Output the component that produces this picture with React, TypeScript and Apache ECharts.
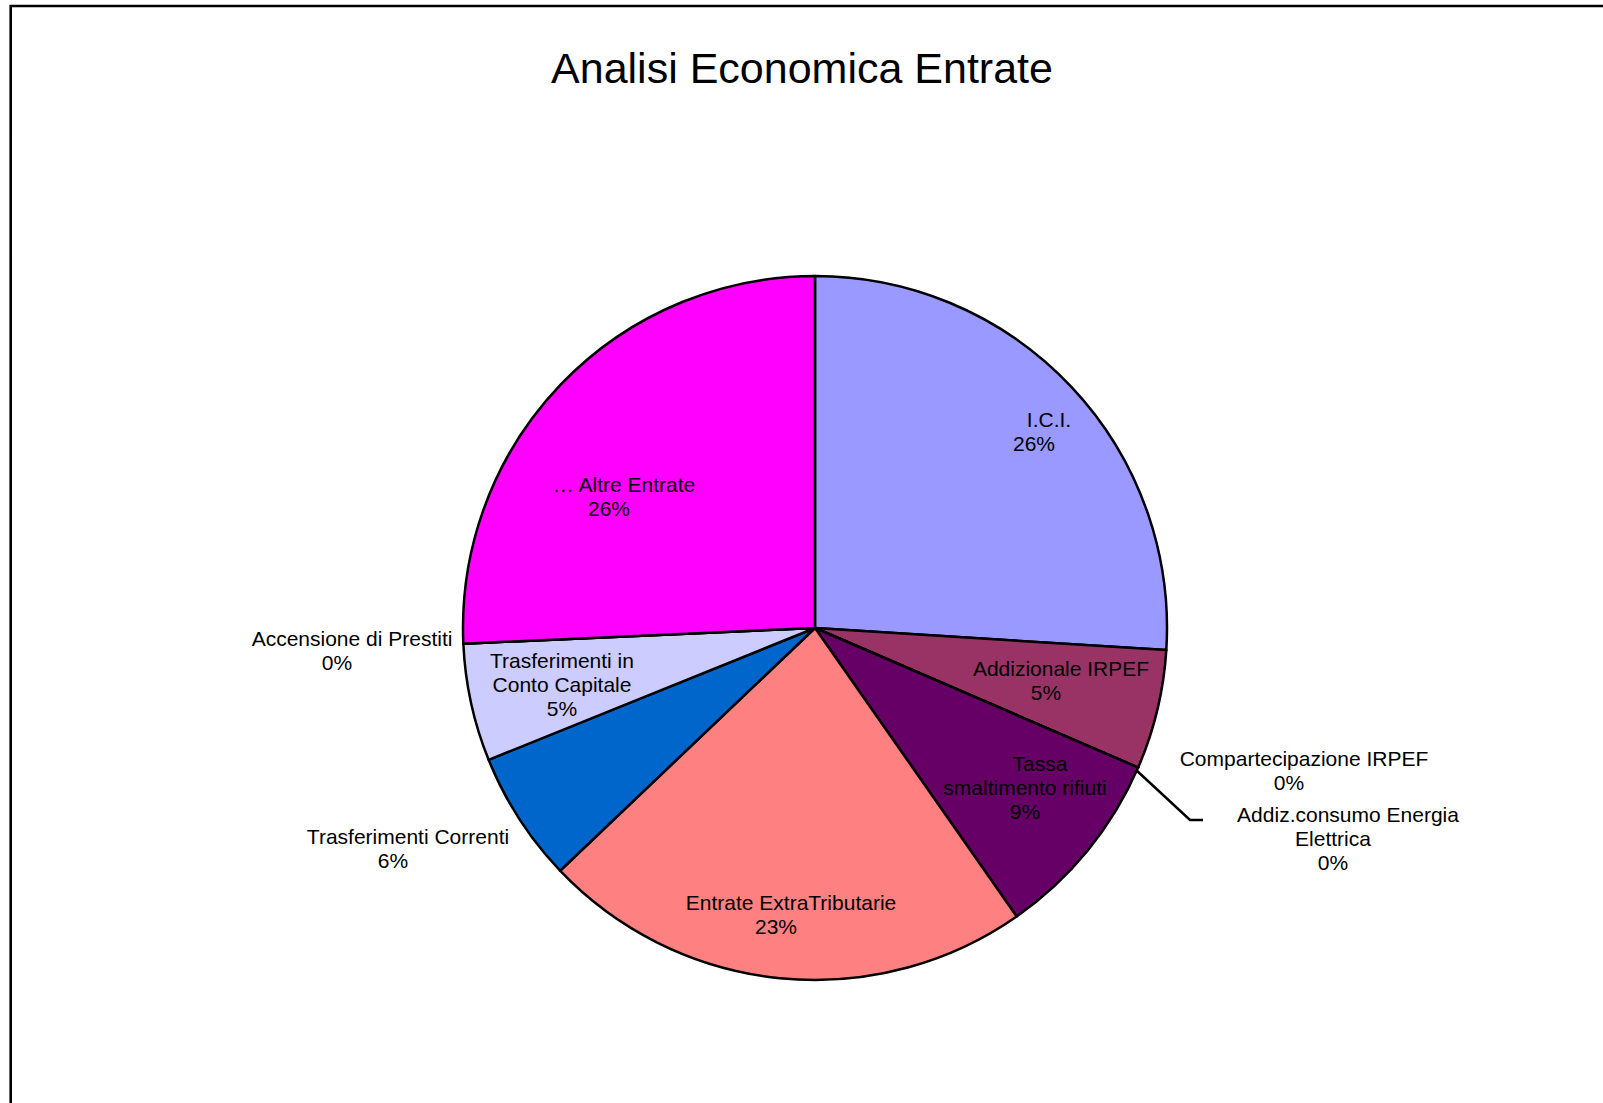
import React, { useEffect, useRef } from "react";
import * as echarts from "echarts";

const TITLE = "Analisi Economica Entrate";
const CATEGORIES = [
  "I.C.I.",
  "Addizionale IRPEF",
  "Compartecipazione IRPEF",
  "Addiz.consumo Energia Elettrica",
  "Tassa smaltimento rifiuti",
  "Entrate ExtraTributarie",
  "Trasferimenti Correnti",
  "Trasferimenti in Conto Capitale",
  "Accensione di Prestiti",
  "… Altre Entrate",
];
const VALUES = [26.0, 5.49, 0, 0, 8.8, 22.6, 6.0, 5.4, 0, 25.71];
const COLORS = [
  "#9999FF",
  "#993366",
  "#FFFFCC",
  "#CCFFFF",
  "#660066",
  "#FF8080",
  "#0066CC",
  "#CCCCFF",
  "#800000",
  "#FF00FF",
];

// presentation: how the label names wrap
const LABEL_BREAKS: Record<string, string[]> = {
  "Addiz.consumo Energia Elettrica": ["Addiz.consumo Energia", "Elettrica"],
  "Tassa smaltimento rifiuti": ["Tassa", "smaltimento rifiuti"],
  "Trasferimenti in Conto Capitale": ["Trasferimenti in", "Conto Capitale"],
};
const NO_SHIFT = new Set(["Trasferimenti in Conto Capitale"]);

// label block anchors (layout)
const LABEL_ANCHORS: [number, number][] = [
  [1034, 431],
  [1046, 680],
  [1289, 770],
  [1333, 838],
  [1025, 787],
  [776, 914],
  [393, 848],
  [562, 684],
  [337, 650],
  [609, 496],
];
const LEADER_INDEX = 3;
const LEADER_POINTS = [
  [1135, 769],
  [1190, 820],
  [1203, 820],
];

const FONT = "'Liberation Sans', Arial, sans-serif";

export default function App() {
  const ref = useRef<HTMLDivElement>(null);
  useEffect(() => {
    if (!ref.current) return;
    const chart = echarts.init(ref.current, null, { renderer: "svg" });
    const data = CATEGORIES.map((name, i) => {
      const item: any = {
        name,
        value: VALUES[i],
        itemStyle: { color: COLORS[i] },
      };
      if (i === LEADER_INDEX) {
        item.label = { position: "outside" };
        item.labelLine = {
          show: true,
          lineStyle: { color: "#000", width: 2.5 },
        };
      }
      return item;
    });
    chart.setOption({
      animation: false,
      backgroundColor: "#fff",
      title: {
        text: TITLE,
        left: 797,
        top: 63,
        textAlign: "center",
        textVerticalAlign: "middle",
        textStyle: {
          fontFamily: FONT,
          fontSize: 43,
          fontWeight: "normal",
          color: "#000",
        },
      },
      graphic: [
        {
          type: "rect",
          shape: { x: 10.7, y: 6, width: 1800, height: 1800 },
          style: { fill: "none", stroke: "#000", lineWidth: 2.6 },
          z: 100,
          silent: true,
        },
      ],
      series: [
        {
          type: "pie",
          center: [815, 628],
          radius: 352,
          startAngle: 90,
          clockwise: true,
          avoidLabelOverlap: false,
          data,
          itemStyle: { borderColor: "#000", borderWidth: 2.5 },
          emphasis: { disabled: true },
          label: {
            show: true,
            position: "inside",
            color: "#000",
            fontFamily: FONT,
            fontSize: 21,
            lineHeight: 24,
            align: "center",
            formatter: (p: any) => {
              const lines = LABEL_BREAKS[p.name] || [p.name];
              const shift = !NO_SHIFT.has(p.name);
              const parts = lines.map((l, k) =>
                k === 0 && shift ? `{n|${l}}` : `{p|${l}}`
              );
              parts.push(`{p|${Math.round(p.percent)}%}`);
              return parts.join("\n");
            },
            rich: {
              n: {
                padding: [0, 0, 0, 30],
                color: "#000",
                fontFamily: FONT,
                fontSize: 21,
                lineHeight: 24,
              },
              p: {
                color: "#000",
                fontFamily: FONT,
                fontSize: 21,
                lineHeight: 24,
              },
            },
          },
          labelLine: { show: false },
          labelLayout: (params: any) => {
            const a = LABEL_ANCHORS[params.dataIndex];
            const r: any = {
              x: a[0],
              y: a[1],
              align: "center",
              verticalAlign: "middle",
            };
            if (params.dataIndex === LEADER_INDEX) {
              r.labelLinePoints = LEADER_POINTS;
            }
            return r;
          },
        },
      ],
    });
    return () => chart.dispose();
  }, []);
  return (
    <div
      ref={ref}
      style={{
        position: "absolute",
        left: 0,
        top: 0,
        width: 1603,
        height: 1103,
      }}
    />
  );
}
